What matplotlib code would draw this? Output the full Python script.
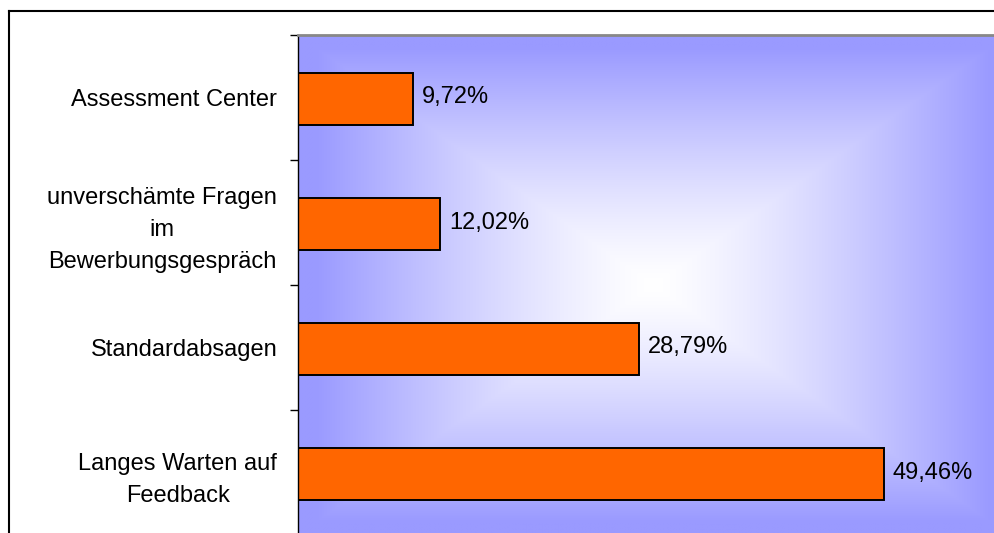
import numpy as np
import matplotlib
matplotlib.use("Agg")
import matplotlib.pyplot as plt
from matplotlib.lines import Line2D

categories = [
    "Assessment Center",
    "unverschämte Fragen\nim\nBewerbungsgespräch",
    "Standardabsagen",
    "Langes Warten auf\nFeedback",
]
values = [9.72, 12.02, 28.79, 49.46]
value_labels = ["9,72%", "12,02%", "28,79%", "49,46%"]

plt.rcParams['font.family'] = ['Liberation Sans', 'DejaVu Sans']

W, H = 995, 533
fig = plt.figure(figsize=(W / 100, H / 100), dpi=100)
fig.patch.set_facecolor("white")

# plot area runs past the right and bottom edge of the picture (cropped)
ax = fig.add_axes([298 / W, -2 / H, 711 / W, 500 / H])

# rectangular "from center" gradient: white centre -> blue edges
n = 400
u = np.linspace(-1, 1, n)
uu, vv = np.meshgrid(u, u)
t = np.clip(np.maximum(np.abs(uu), np.abs(vv)) / 0.95, 0, 1) ** 1.3
edge = np.array([154, 154, 255]) / 255.0
img = (1 - t)[..., None] * np.ones(3) + t[..., None] * edge
ax.imshow(img, extent=[0, 1, 0, 1], transform=ax.transAxes,
          aspect='auto', zorder=0, interpolation='bilinear')

y = np.arange(len(categories))
ax.barh(y + 0.01, values, height=0.42, color="#FF6600", edgecolor="black",
        linewidth=1.4, zorder=2)

for yi, v, lab in zip(y, values, value_labels):
    ax.annotate(lab, (v, yi), xytext=(6, 0), textcoords="offset points",
                ha="left", va="center", fontsize=17, color="black", zorder=3)

ax.set_xlim(0, 60)
ax.set_ylim(len(categories) - 0.5, -0.5)

ax.set_yticks(y)
ax.set_yticklabels(categories, fontsize=17, multialignment="center",
                   linespacing=1.6)
ax.tick_params(axis="y", which="major", length=0, pad=15)
ax.set_yticks(np.arange(-0.5, len(categories), 1.0), minor=True)
ax.tick_params(axis="y", which="minor", length=6, width=1, direction="out")
ax.set_xticks([])

for side in ["right", "bottom"]:
    ax.spines[side].set_visible(False)
ax.spines["left"].set_color("black")
ax.spines["left"].set_linewidth(1)
ax.spines["top"].set_color("#888888")
ax.spines["top"].set_linewidth(2)

# outer chart frame (top and left edges visible)
fx, fy = 9 / W, 1 - 11 / H
fig.add_artist(Line2D([fx, 1.0], [fy, fy], transform=fig.transFigure,
                      color="black", linewidth=1.5))
fig.add_artist(Line2D([fx, fx], [fy, 0.0], transform=fig.transFigure,
                      color="black", linewidth=1.5))

fig.savefig("out.png", dpi=100)
